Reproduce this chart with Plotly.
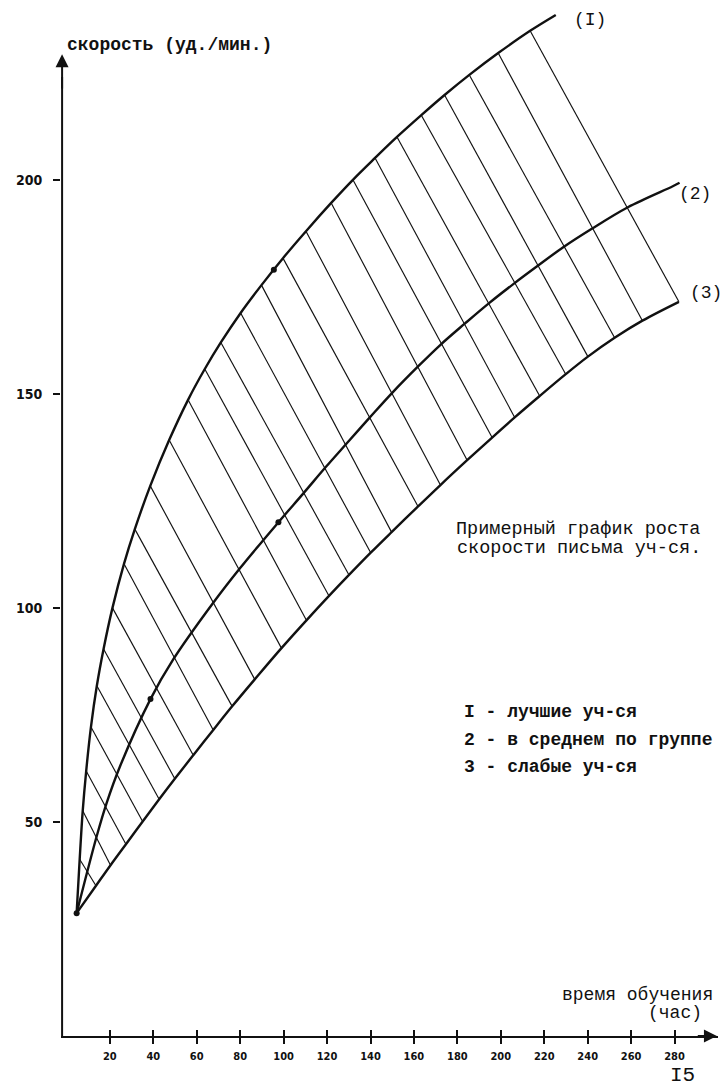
import plotly.graph_objects as go

# ---- data (hours, strokes per minute) ----
best_x = [4.7, 6.1, 7.5, 9.1, 11.3, 14.0, 17.1, 21.2, 26.5, 31.5, 38.6, 47.3, 56.0, 63.7, 71.1,
          80.2, 89.8, 99.7, 110.3, 121.9, 131.9, 142.1, 152.2, 163.4, 174.1, 185.5, 198.8, 213.5, 225.3]
best_y = [28.7, 41.3, 52.6, 61.9, 72.2, 81.8, 90.4, 100.0, 110.3, 118.4, 128.5, 139.2, 148.6, 155.8, 162.0,
          168.9, 175.4, 181.7, 188.0, 194.6, 200.0, 205.1, 210.0, 215.1, 219.8, 224.5, 229.6, 234.8, 238.5]

avg_x = [4.7, 13.9, 18.5, 24.6, 38.7, 49.1, 67.6, 79.8, 97.6, 109.0, 119.4, 129.0, 139.7, 150.1,
         161.9, 172.1, 183.4, 194.6, 205.9, 216.7, 228.9, 241.7, 258.5, 279.2, 282.3]
avg_y = [28.7, 46.6, 54.4, 62.9, 78.7, 87.9, 101.2, 109.2, 120.0, 126.7, 132.9, 138.4, 144.5, 150.3,
         156.4, 161.4, 166.4, 171.2, 175.7, 179.8, 184.3, 188.5, 193.6, 198.5, 199.3]

weak_x = [4.7, 13.6, 20.3, 27.4, 35.1, 42.7, 49.9, 58.4, 67.6, 76.3, 86.7, 99.0, 110.5, 120.9,
          130.1, 140.1, 149.7, 161.9, 172.2, 184.5, 196.0, 206.4, 217.9, 229.9, 240.1, 252.4, 265.2, 282.0]
weak_y = [28.7, 35.1, 39.9, 44.8, 50.1, 55.3, 60.1, 65.6, 71.5, 77.0, 83.3, 90.6, 97.1, 102.8,
          107.7, 112.9, 117.7, 123.7, 128.7, 134.5, 139.8, 144.5, 149.5, 154.6, 158.7, 163.1, 167.1, 171.5]

dot_x = [4.7, 38.7, 97.6, 95.5]
dot_y = [28.7, 78.7, 120.0, 179.0]

x_ticks = [20, 40, 60, 80, 100, 120, 140, 160, 180, 200, 220, 240, 260, 280]
x_labels = ["20", "40", "60", "80", "100", "120", "140", "160", "180", "200", "220", "240", "260", "280"]
y_ticks = [50, 100, 150, 200]
y_labels = ["50", "100", "150", "200"]

n_hatch = 27

INK = "#111111"
MONO = "Liberation Mono, DejaVu Sans Mono, monospace"
COND = "DejaVu Sans Condensed, DejaVu Sans, sans-serif"

fig = go.Figure()

# cross hatching from curve I to curve 3
hx, hy = [], []
for i in range(1, n_hatch + 1):
    hx += [best_x[i], weak_x[i], None]
    hy += [best_y[i], weak_y[i], None]
fig.add_trace(go.Scatter(x=hx, y=hy, mode="lines", line=dict(color=INK, width=1.15),
                         hoverinfo="skip"))

for cx, cy in [(best_x, best_y), (avg_x, avg_y), (weak_x, weak_y)]:
    fig.add_trace(go.Scatter(x=cx, y=cy, mode="lines",
                             line=dict(color=INK, width=2.4, shape="spline", smoothing=1.0),
                             hoverinfo="skip"))

fig.add_trace(go.Scatter(x=dot_x, y=dot_y, mode="markers",
                         marker=dict(color=INK, size=6), hoverinfo="skip"))

# helper trace for the upper half of the x tick crosses
fig.add_trace(go.Scatter(x=[None], y=[None], xaxis="x2", mode="markers", showlegend=False))

annotations = [
    dict(x=-0.7, y=231.5, text="скорость (уд./мин.)", xanchor="left", yanchor="middle",
         font=dict(family=MONO, size=18, color=INK, weight="bold")),
    dict(x=233.0, y=237.3, text="(I)", xanchor="left", yanchor="middle",
         font=dict(family=MONO, size=18, color=INK)),
    dict(x=281.0, y=196.8, text="(2)", xanchor="left", yanchor="middle",
         font=dict(family=MONO, size=18, color=INK)),
    dict(x=286.2, y=173.6, text="(3)", xanchor="left", yanchor="middle",
         font=dict(family=MONO, size=18, color=INK)),
    dict(x=178.4, y=118.2, text="Примерный график роста", xanchor="left", yanchor="middle",
         font=dict(family=MONO, size=18.5, color=INK)),
    dict(x=178.8, y=113.8, text="скорости письма уч-ся.", xanchor="left", yanchor="middle",
         font=dict(family=MONO, size=18.5, color=INK)),
    dict(x=182.0, y=75.7, text="I - лучшие уч-ся", xanchor="left", yanchor="middle",
         font=dict(family=MONO, size=18, color=INK, weight="bold")),
    dict(x=182.0, y=69.1, text="2 - в среднем по группе", xanchor="left", yanchor="middle",
         font=dict(family=MONO, size=18, color=INK, weight="bold")),
    dict(x=182.0, y=62.8, text="3 - слабые уч-ся", xanchor="left", yanchor="middle",
         font=dict(family=MONO, size=18, color=INK, weight="bold")),
    dict(x=227.2, y=9.6, text="время обучения", xanchor="left", yanchor="middle",
         font=dict(family=MONO, size=18, color=INK)),
    dict(x=266.8, y=5.4, text="(час)", xanchor="left", yanchor="middle",
         font=dict(family=MONO, size=18, color=INK)),
]
for a in annotations:
    a.update(showarrow=False, xref="x", yref="y")

# page number below the plot area (paper coordinates so it is not hidden)
annotations.append(dict(x=(668 - 61) / 657, y=(1036 - 1075) / 1036, xref="paper", yref="paper",
                        text="I5", xanchor="left", yanchor="middle", showarrow=False,
                        font=dict(family=MONO, size=21, color=INK)))

# axis arrows
annotations.append(dict(x=-2, y=229.3, ax=-2, ay=221, xref="x", yref="y", axref="x", ayref="y",
                        text="", showarrow=True, arrowhead=2, arrowsize=1.3, arrowwidth=2,
                        arrowcolor=INK))
annotations.append(dict(x=299.5, y=0, ax=290, ay=0, xref="x", yref="y", axref="x", ayref="y",
                        text="", showarrow=True, arrowhead=2, arrowsize=1.3, arrowwidth=2,
                        arrowcolor=INK))

fig.update_layout(
    width=723, height=1088,
    margin=dict(l=61, r=5, t=0, b=52),
    paper_bgcolor="white", plot_bgcolor="white",
    showlegend=False,
    annotations=annotations,
    shapes=[dict(type="line", xref="x", yref="y", x0=-2, y0=0, x1=-2, y1=224,
                 line=dict(color=INK, width=2))],
    xaxis=dict(range=[-2.5, 300], tickmode="array", tickvals=x_ticks, ticktext=x_labels,
               ticks="outside", ticklen=6, tickwidth=1.5, tickcolor=INK,
               showline=True, linewidth=2, linecolor=INK, showgrid=False, zeroline=False,
               tickfont=dict(family=COND, size=11, color=INK, weight="bold"),
               ticklabelstandoff=3, fixedrange=True),
    xaxis2=dict(overlaying="x", matches="x", anchor="y", side="bottom",
                tickmode="array", tickvals=x_ticks, ticks="inside", ticklen=6, tickwidth=1.5,
                tickcolor=INK, showticklabels=False, showgrid=False, showline=False,
                zeroline=False),
    yaxis=dict(range=[0, 242], tickmode="array", tickvals=y_ticks, ticktext=y_labels,
               ticks="outside", ticklen=7, tickwidth=2, tickcolor=INK,
               showline=False, showgrid=False, zeroline=False,
               tickfont=dict(family=COND, size=14, color=INK, weight="bold"),
               ticklabelstandoff=8, fixedrange=True),
)

fig.write_html("out.html", config={"displayModeBar": False},
               post_script="document.body.style.margin='0';")
